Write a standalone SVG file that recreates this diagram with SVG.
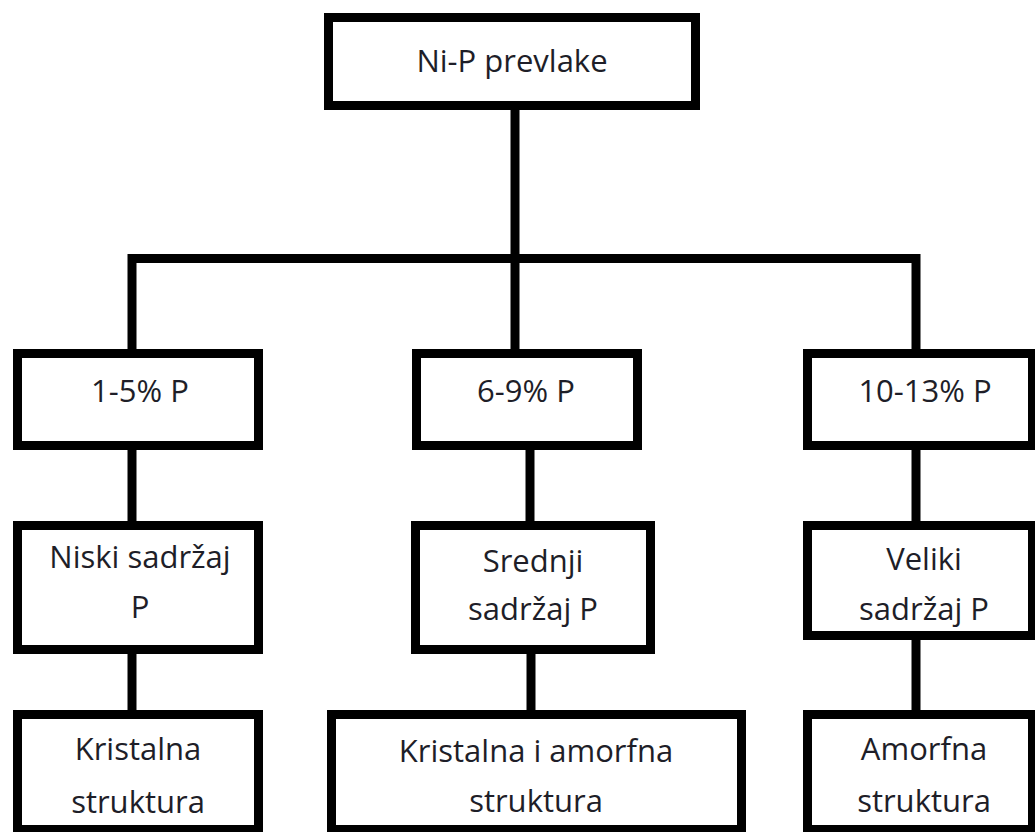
<svg xmlns="http://www.w3.org/2000/svg" width="1035" height="832" viewBox="0 0 1035 832">
<style>
.box{fill:#fff;stroke:#000;stroke-width:9;stroke-linejoin:miter}
.c{fill:none;stroke:#000;stroke-width:9;stroke-linejoin:miter}
text{font-family:"Open Sans","Noto Sans","Liberation Sans",sans-serif;font-size:31px;fill:#1e1e28;text-anchor:middle}
</style>
<rect width="1035" height="832" fill="#fff"/>
<g id="connectors">
<line class="c" x1="515" y1="108" x2="515" y2="351"/>
<path class="c" d="M132,351 V258.5 H916 V351"/>
<line class="c" x1="132" y1="448" x2="132" y2="523"/>
<line class="c" x1="530" y1="448" x2="530" y2="523"/>
<line class="c" x1="916" y1="448" x2="916" y2="523"/>
<line class="c" x1="132" y1="652" x2="132" y2="712"/>
<line class="c" x1="531" y1="652" x2="531" y2="712"/>
<line class="c" x1="916" y1="638" x2="916" y2="712"/>
</g>
<g id="root">
<rect class="box" x="328.5" y="17.5" width="367" height="88"/>
<text x="512" y="72">Ni-P prevlake</text>
</g>
<g id="p1">
<rect class="box" x="17.5" y="353.5" width="241" height="92"/>
<text x="140" y="402">1-5% P</text>
</g>
<g id="p2">
<rect class="box" x="416.5" y="353.5" width="221" height="92"/>
<text x="526" y="402">6-9% P</text>
</g>
<g id="p3">
<rect class="box" x="807.5" y="353.5" width="225" height="92"/>
<text x="925" y="402">10-13% P</text>
</g>
<g id="s1">
<rect class="box" x="17.5" y="525.5" width="241" height="124"/>
<text x="140" y="568">Niski sadržaj</text>
<text x="140" y="618">P</text>
</g>
<g id="s2">
<rect class="box" x="415.5" y="525.5" width="235" height="124"/>
<text x="533" y="572">Srednji</text>
<text x="533" y="620">sadržaj P</text>
</g>
<g id="s3">
<rect class="box" x="807.5" y="525.5" width="225" height="110"/>
<text x="924" y="570">Veliki</text>
<text x="924" y="620">sadržaj P</text>
</g>
<g id="k1">
<rect class="box" x="17.5" y="714.5" width="241" height="115"/>
<text x="138" y="760">Kristalna</text>
<text x="138" y="813">struktura</text>
</g>
<g id="k2">
<rect class="box" x="331.5" y="714.5" width="410" height="115"/>
<text x="536" y="762">Kristalna i amorfna</text>
<text x="536" y="812">struktura</text>
</g>
<g id="k3">
<rect class="box" x="807.5" y="714.5" width="225" height="115"/>
<text x="924" y="760">Amorfna</text>
<text x="924" y="812">struktura</text>
</g>
</svg>
